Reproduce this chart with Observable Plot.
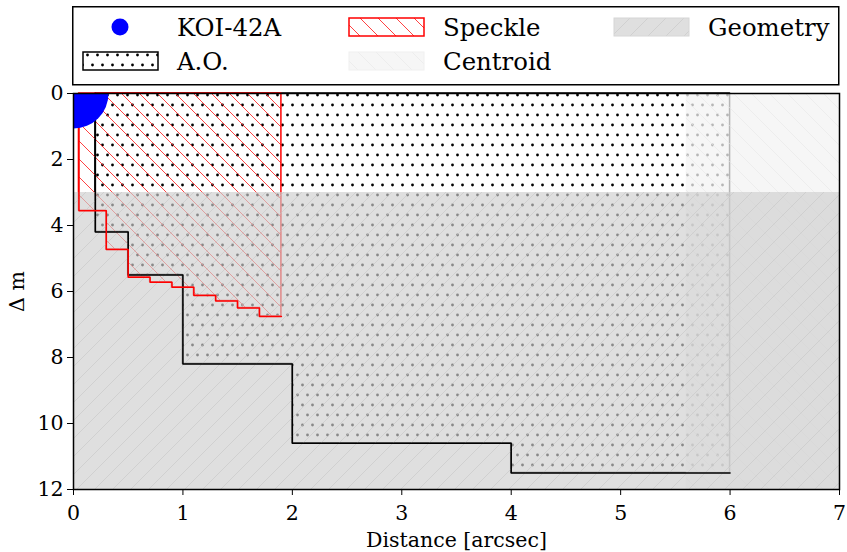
<!DOCTYPE html>
<html>
<head>
<meta charset="utf-8">
<script src="https://cdn.jsdelivr.net/npm/d3@7"></script>
<script src="https://cdn.jsdelivr.net/npm/@observablehq/plot@0.6"></script>
<style>
  html, body { margin: 0; padding: 0; background: white; }
  #wrap { width: 847px; font-family: "DejaVu Serif", serif; }
  #legend svg { display: block; overflow: visible; }
  #chart svg { display: block; }
</style>
</head>
<body>
<svg width="0" height="0" style="position:absolute">
  <defs>
    <pattern id="p-dots" patternUnits="userSpaceOnUse" width="10" height="20">
      <circle cx="2.5" cy="5" r="1.4" fill="black"/>
      <circle cx="7.5" cy="15" r="1.4" fill="black"/>
    </pattern>
    <pattern id="p-speckle" patternUnits="userSpaceOnUse" width="18" height="18">
      <path d="M0,0L18,18M-2,16L2,20M16,-2L20,2" stroke="#ff2020" stroke-width="0.85" fill="none"/>
    </pattern>
    <pattern id="p-centroid" patternUnits="userSpaceOnUse" width="18" height="18">
      <rect width="18" height="18" fill="#f2f2f2" fill-opacity="0.75"/>
      <path d="M0,0L18,18M-2,16L2,20M16,-2L20,2" stroke="#e6e6e6" stroke-opacity="0.75" stroke-width="0.8" fill="none"/>
    </pattern>
    <pattern id="p-geometry" patternUnits="userSpaceOnUse" width="18" height="18">
      <rect width="18" height="18" fill="#cecece" fill-opacity="0.66"/>
      <path d="M0,18L18,0M-2,2L2,-2M16,20L20,16" stroke="#c2c2c2" stroke-opacity="0.66" stroke-width="0.8" fill="none"/>
    </pattern>
  </defs>
</svg>
<div id="wrap">
  <div id="legend"></div>
  <div id="chart"></div>
</div>
<script>
// ---- data ----
const categories = ["KOI-42A", "A.O.", "Speckle", "Centroid", "Geometry"];
const starDist = [0];
const starDm = [0];
const aoDist = [0.2, 0.5, 1, 2, 4, 6];
const aoDm = [4.2, 5.5, 8.2, 10.6, 11.5];
const speckleDist = [0.05, 0.3, 0.5, 0.7, 0.9, 1.1, 1.3, 1.5, 1.7, 1.9];
const speckleDm = [3.55, 4.73, 5.57, 5.72, 5.87, 6.12, 6.29, 6.5, 6.76];
const centroidDist = [5.6, 7];
const centroidDm = [0, 12];
const geometryDist = [0, 7];
const geometryDm = [3, 12];
const xTicks = [0, 1, 2, 3, 4, 5, 6, 7];
const yTicks = [0, 2, 4, 6, 8, 10, 12];

// ---- derived tables ----
const steps = (xs, ys) => xs.map((d, i) => ({dist: d, dm: ys[Math.min(i, ys.length - 1)]}));
const ao = steps(aoDist, aoDm);
const aoLine = [{dist: aoDist[0], dm: 0}, ...ao];
const sp = steps(speckleDist, speckleDm);
const spLine = [{dist: speckleDist[0], dm: 0}, ...sp];
const star = starDist.map((d, i) => ({name: categories[0], dist: d, dm: starDm[i]}));
const centroid = [{x1: centroidDist[0], x2: centroidDist[1], y1: centroidDm[0], y2: centroidDm[1]}];
const geometry = [{x1: geometryDist[0], x2: geometryDist[1], y1: geometryDm[0], y2: geometryDm[1]}];

// ---- legend ----
const lg = d3.select("#legend").append("svg")
  .attr("width", 847).attr("height", 80)
  .attr("font-family", "DejaVu Serif").attr("font-size", 24.4);
lg.append("rect").attr("x", 72.75).attr("y", 6.75).attr("width", 766).attr("height", 78)
  .attr("fill", "white").attr("stroke", "black").attr("stroke-width", 1.5);
const items = [
  {label: categories[0], col: 0, row: 0, kind: "dot"},
  {label: categories[1], col: 0, row: 1, fill: "url(#p-dots)", stroke: "black", sw: 1.5},
  {label: categories[2], col: 1, row: 0, fill: "url(#p-speckle)", stroke: "red", sw: 1.5},
  {label: categories[3], col: 1, row: 1, fill: "url(#p-centroid)", stroke: "#f0f0f0", sw: 1},
  {label: categories[4], col: 2, row: 0, fill: "url(#p-geometry)", stroke: "#d6d6d6", sw: 1}
];
const colX = [83, 349, 614];
const rowY = [18, 52];
for (const it of items) {
  const x = colX[it.col], y = rowY[it.row];
  if (it.kind === "dot") {
    lg.append("circle").attr("cx", x + 37).attr("cy", y + 9).attr("r", 8.5).attr("fill", "blue");
  } else {
    lg.append("rect").attr("x", x).attr("y", y).attr("width", 75).attr("height", 18)
      .attr("fill", "white");
    lg.append("rect").attr("x", x).attr("y", y).attr("width", 75).attr("height", 18)
      .attr("fill", it.fill).attr("stroke", it.stroke).attr("stroke-width", it.sw);
  }
  lg.append("text").attr("x", x + 94).attr("y", y + 17.5).text(it.label);
}

// ---- chart ----
const chart = Plot.plot({
  width: 847,
  height: 472,
  marginTop: 13,
  marginRight: 8,
  marginBottom: 63,
  marginLeft: 73,
  style: {fontFamily: "DejaVu Serif", fontSize: "20.5px", color: "black", background: "none"},
  x: {domain: [0, 7], ticks: xTicks, tickFormat: "d", label: "Distance [arcsec]", labelAnchor: "center", labelArrow: "none", labelOffset: 57, tickSize: 6, tickPadding: 10},
  y: {domain: [0, 12], reverse: true, ticks: yTicks, tickFormat: "d", label: "Δ m", labelAnchor: "center", labelArrow: "none", labelOffset: 64, tickSize: 6, tickPadding: 4},
  marks: [
    Plot.areaY(ao, {x: "dist", y: "dm", curve: "step-after", fill: "url(#p-dots)", stroke: "black", strokeWidth: 1.5}),
    Plot.areaY(sp, {x: "dist", y: "dm", curve: "step-after", fill: "url(#p-speckle)", stroke: "red", strokeWidth: 1.5}),
    Plot.rect(centroid, {x1: "x1", x2: "x2", y1: "y1", y2: "y2", fill: "url(#p-centroid)"}),
    Plot.rect(geometry, {x1: "x1", x2: "x2", y1: "y1", y2: "y2", fill: "url(#p-geometry)"}),
    Plot.line(aoLine, {x: "dist", y: "dm", curve: "step-after", stroke: "black", strokeWidth: 1.5}),
    Plot.line(spLine, {x: "dist", y: "dm", curve: "step-after", stroke: "red", strokeWidth: 1.5}),
    Plot.dot(star, {x: "dist", y: "dm", r: 35, fill: "blue", stroke: "none", clip: true}),
    Plot.frame({stroke: "black", strokeWidth: 1.5})
  ]
});
document.getElementById("chart").appendChild(chart);
</script>
</body>
</html>
